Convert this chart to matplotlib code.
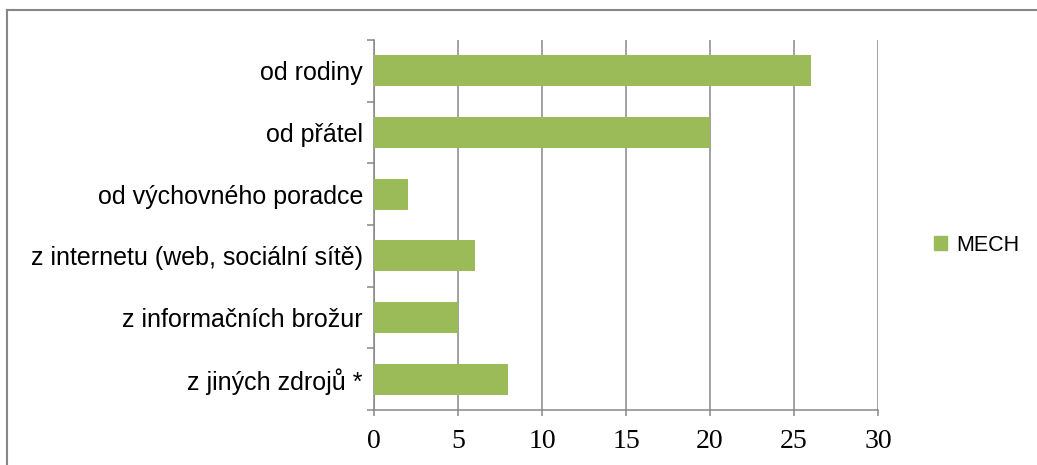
import matplotlib
matplotlib.use("Agg")
import matplotlib.pyplot as plt
from matplotlib.lines import Line2D
from matplotlib.patches import Patch
import numpy as np

categories = ["od rodiny", "od přátel", "od výchovného poradce",
              "z internetu (web, sociální sítě)", "z informačních brožur",
              "z jiných zdrojů *"]
values = [26, 20, 2, 6, 5, 8]
series_name = "MECH"
xticks = [0, 5, 10, 15, 20, 25, 30]

GREEN = "#9BBB59"
GRAY = "#878787"

W, H = 1037, 465
fig = plt.figure(figsize=(W / 100, H / 100), dpi=100)
ax = fig.add_axes([374 / W, 1 - 410 / H, (878 - 374) / W, (410 - 40) / H])

y = np.arange(len(categories))[::-1]
ax.barh(y, values, height=0.5, color=GREEN, zorder=3)

ax.set_xlim(0, 30)
ax.set_ylim(-0.5, len(categories) - 0.5)
ax.set_xticks(xticks)
ax.set_xticklabels([str(t) for t in xticks], family="Liberation Serif", fontsize=20)
ax.set_yticks(y)
ax.set_yticklabels(categories, family="Liberation Sans", fontsize=18)
ax.set_yticks(np.arange(len(categories) + 1) - 0.5, minor=True)
ax.tick_params(axis="y", which="major", length=0, pad=8)
ax.tick_params(axis="y", which="minor", length=5, width=1.1, color=GRAY)
ax.tick_params(axis="x", length=4.5, width=1.1, color=GRAY, pad=9)

ax.grid(axis="x", color=GRAY, lw=1.1, zorder=0)
for s in ["top", "right"]:
    ax.spines[s].set_visible(False)
for s in ["left", "bottom"]:
    ax.spines[s].set_color(GRAY)
    ax.spines[s].set_linewidth(1.1)

ax.legend(handles=[Patch(color=GREEN, label=series_name)], loc="center left",
          bbox_to_anchor=(915 / W, 1 - 245 / H), bbox_transform=fig.transFigure,
          frameon=False, handlelength=0.6, handleheight=0.6, handletextpad=0.4,
          prop={"family": "Liberation Sans", "size": 15.5})

# outer frame (only top and left edges visible in the crop)
fig.add_artist(Line2D([6.5 / W, 6.5 / W], [0, 1 - 10.5 / H], color=GRAY, lw=1.5,
                      transform=fig.transFigure))
fig.add_artist(Line2D([6.5 / W, 1], [1 - 10.5 / H, 1 - 10.5 / H], color=GRAY, lw=1.5,
                      transform=fig.transFigure))

fig.savefig("out.png", dpi=100)
